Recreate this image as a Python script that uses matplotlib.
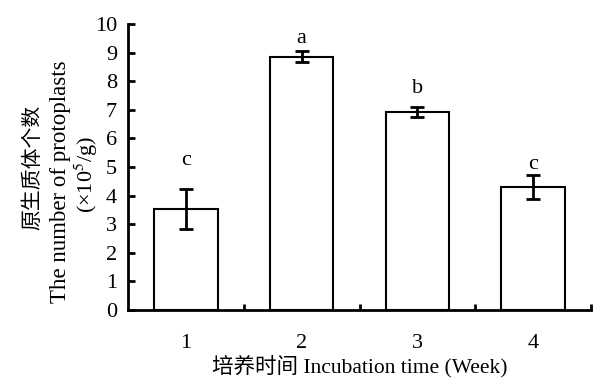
import matplotlib.pyplot as plt

weeks = ['1', '2', '3', '4']
counts = [3.53, 8.86, 6.93, 4.29]
errs = [0.70, 0.20, 0.17, 0.42]
letters = ['c', 'a', 'b', 'c']
letter_y = [5.24, 9.5, 7.76, 5.1]

plt.rcParams['font.family'] = ['Liberation Serif', 'Noto Sans CJK SC']
plt.rcParams['mathtext.fontset'] = 'stix'

fig = plt.figure(figsize=(6.01, 3.89), dpi=100)
ax = fig.add_axes([128/601, 1-310/389, (591-128)/601, (310-24)/389])

x = list(range(1, len(weeks)+1))
ax.bar(x, counts, width=0.55, color='white', edgecolor='black', linewidth=1.5, zorder=2)
ax.errorbar(x, counts, yerr=errs, fmt='none', ecolor='black', elinewidth=2,
            capsize=5, capthick=2, zorder=3)
for xi, t, ly in zip(x, letters, letter_y):
    ax.text(xi, ly, t, ha='center', va='center', fontsize=16)

ax.set_xlim(0.5, 4.5)
ax.set_ylim(0, 10)
ax.set_yticks(range(0, 11))
ax.set_xticks(x)
ax.set_xticklabels(weeks)
ax.set_xticks([1.5, 2.5, 3.5, 4.5], minor=True)
ax.tick_params(axis='x', which='major', length=0, labelsize=16, pad=17)
ax.tick_params(axis='x', which='minor', direction='in', length=4, width=2)
ax.tick_params(axis='y', direction='in', length=5, width=2, labelsize=16, pad=8)
for s in ['top', 'right']:
    ax.spines[s].set_visible(False)
for s in ['left', 'bottom']:
    ax.spines[s].set_linewidth(2)

ax.set_xlabel('培养时间 Incubation time (Week)', fontsize=15.5, labelpad=2)
fig.text(32/601, 1-167/389, '原生质体个数', rotation=90, ha='center', va='center',
         fontsize=15, family=['Noto Sans CJK SC'])
fig.text(61/601, 1-182/389, 'The number of protoplasts', rotation=90,
         ha='center', va='center', fontsize=16.5)
fig.text(86/601, 1-174/389, r'(×10$^{5}$/g)', rotation=90, ha='center', va='center',
         fontsize=16)

fig.savefig('out.png', dpi=100)
